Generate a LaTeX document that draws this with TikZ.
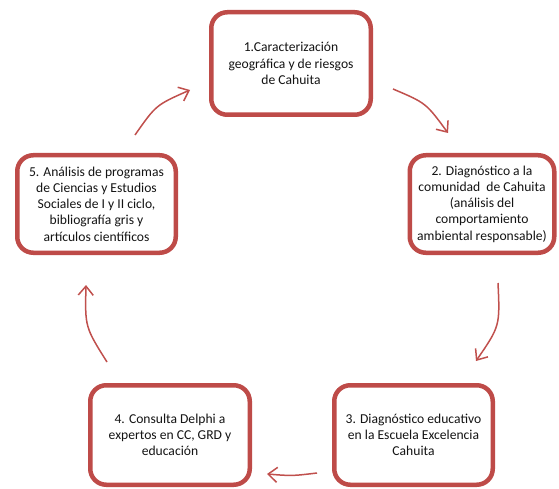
\documentclass[tikz,border=0pt]{standalone}
\usepackage{fontspec}
\setmainfont{Carlito}
\usetikzlibrary{arrows.meta}
\definecolor{boxred}{HTML}{BE4B48}
\definecolor{arrred}{HTML}{C0504D}
\definecolor{txt}{HTML}{141414}
\begin{document}
\begin{tikzpicture}[x=1pt,y=-1pt,
  stepbox/.style={draw=boxred, line width=4.5pt, rounded corners=16pt, fill=white,
    align=center, text=txt, inner sep=2pt,
    font=\fontsize{13.6}{16.2}\selectfont},
  flow/.style={draw=arrred, line width=1.5pt, -{Straight Barb[length=9pt,width=15pt,line width=1.5pt]}}]
\useasboundingbox (0,0) rectangle (559,489);
\node[stepbox, minimum width=159.5pt, minimum height=102.5pt] (b1) at (291,63.5)
  {1.Caracterización\\geográfica y de riesgos\\de Cahuita};
\node[stepbox, minimum width=144.5pt, minimum height=97.5pt] (b2) at (482,204)
  {2. Diagnóstico a la\\comunidad\ \ de Cahuita\\(análisis del\\comportamiento\\ambiental responsable)};
\node[stepbox, minimum width=158.5pt, minimum height=99.5pt] (b3) at (413.5,435)
  {3. Diagnóstico educativo\\en la Escuela Excelencia\\Cahuita};
\node[stepbox, minimum width=159.5pt, minimum height=99.5pt] (b4) at (170,435)
  {4. Consulta Delphi a\\expertos en CC, GRD y\\educación};
\node[stepbox, minimum width=158.5pt, minimum height=97.5pt] (b5) at (96.5,204)
  {5. Análisis de programas\\de Ciencias y Estudios\\Sociales de I y II ciclo,\\bibliografía gris y\\artículos científicos};
\coordinate (a1s) at (393,89);  \coordinate (a1e) at (448,133);
\coordinate (a2s) at (498,283); \coordinate (a2e) at (476,361);
\coordinate (a3s) at (317,473); \coordinate (a3e) at (267,474);
\coordinate (a4s) at (107,362); \coordinate (a4e) at (86,285);
\coordinate (a5s) at (135,135); \coordinate (a5e) at (190,90);
\draw[flow] (a1s) .. controls (426,103) .. (a1e);
\draw[flow] (a2s) .. controls (500,326) .. (a2e);
\draw[flow] (a3s) .. controls (292,476) .. (a3e);
\draw[flow] (a4s) .. controls (85,327) .. (a4e);
\draw[flow] (a5s) .. controls (156,105) .. (a5e);
\end{tikzpicture}
\end{document}
